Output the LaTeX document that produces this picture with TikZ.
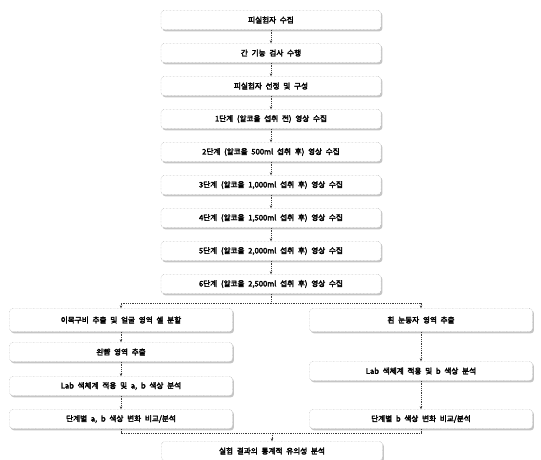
\documentclass[tikz,border=0pt]{standalone}
\usepackage{fontspec}
\newfontfamily\kr{Noto Sans CJK KR}[FakeBold=3,WordSpace=2.2]
\usepackage{tikz}
\usetikzlibrary{arrows.meta,positioning,shadows}
\definecolor{krgray}{RGB}{150,150,150}
\definecolor{krline}{RGB}{60,60,60}
\tikzset{
  stepbox/.style={rectangle,rounded corners=3pt,draw=krgray,densely dotted,
                  fill=white,minimum height=19pt,minimum width=#1,
                  drop shadow={shadow xshift=1.4pt,shadow yshift=-1.8pt,fill=gray!90},
                  font=\kr\fontsize{7.6}{9}\selectfont,align=center},
  stepbox/.default=220pt,
  arr/.style={-{Stealth[length=3pt,width=2.5pt]},densely dotted,thick,krline},
  seg/.style={densely dotted,thick,krline},
}

\begin{document}
\begin{tikzpicture}[x=1pt,y=-1pt]
    \useasboundingbox (0,0) rectangle (541,459);

    % common stages
    \foreach \i/\txt in {1/{피실험자 수집},
                         2/{간 기능 검사 수행},
                         3/{피실험자 선정 및 구성},
                         4/{1단계 (알코올 섭취 전) 영상 수집},
                         5/{2단계 (알코올 500ml 섭취 후) 영상 수집},
                         6/{3단계 (알코올 1,000ml 섭취 후) 영상 수집},
                         7/{4단계 (알코올 1,500ml 섭취 후) 영상 수집},
                         8/{5단계 (알코올 2,000ml 섭취 후) 영상 수집},
                         9/{6단계 (알코올 2,500ml 섭취 후) 영상 수집}}{
      \node[stepbox] (s\i) at (271,{20+33*(\i-1)}) {\txt};
    }
    \foreach \a/\b in {1/2,2/3,3/4,4/5,5/6,6/7,7/8,8/9}
      \draw[arr] (s\a) -- (s\b);

    % face branch
    \node[stepbox=223pt,minimum height=23pt] (f1) at (121,320) {이목구비 추출 및 얼굴 영역 셀 분할};
    \node[stepbox=223pt] (f2) at (121,352) {왼뺨 영역 추출};
    \node[stepbox=223pt] (f3) at (121,386) {Lab 색체계 적용 및 a, b 색상 분석};
    \node[stepbox=223pt] (f4) at (121,419) {단계별 a, b 색상 변화 비교/분석};

    % eye branch
    \node[stepbox=223pt,minimum height=23pt] (e1) at (421,320) {흰 눈동자 영역 추출};
    \node[stepbox=223pt] (e2) at (421,371) {Lab 색체계 적용 및 b 색상 분석};
    \node[stepbox=223pt] (e3) at (421,419) {단계별 b 색상 변화 비교/분석};

    \node[stepbox=221pt] (res) at (272,451) {실험 결과의 통계적 유의성 분석};

    \coordinate (split) at (271,303);
    \coordinate (join) at (272,433);
    \draw[seg] (s9) -- (split);
    \draw[arr] (split) -| (f1);
    \draw[arr] (split) -| (e1);
    \draw[arr] (f1) -- (f2);
    \draw[arr] (f2) -- (f3);
    \draw[arr] (f3) -- (f4);
    \draw[arr] (e1) -- (e2);
    \draw[arr] (e2) -- (e3);
    \draw[seg] (f4) |- (join);
    \draw[seg] (e3) |- (join);
    \draw[arr] (join) -- (res);
\end{tikzpicture}
\end{document}
